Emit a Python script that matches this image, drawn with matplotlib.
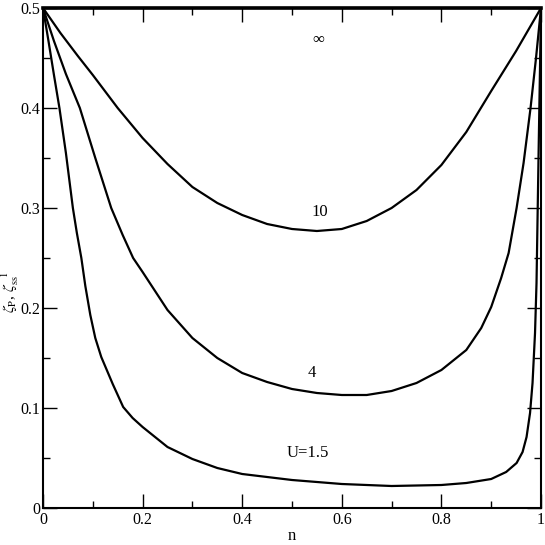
import matplotlib
matplotlib.use("Agg")
import matplotlib.pyplot as plt
from matplotlib.ticker import MultipleLocator

plt.rcParams['font.family'] = ['Liberation Serif', 'DejaVu Serif']
plt.rcParams['mathtext.fontset'] = 'stix'

# U = infinity
n_inf = [0.0, 1.0]
z_inf = [0.5, 0.5]

# U = 10
n_10 = [0.0, 0.035, 0.07, 0.1, 0.15, 0.2, 0.25, 0.3, 0.35, 0.4, 0.45, 0.5, 0.55, 0.6, 0.65, 0.7, 0.75, 0.8, 0.85, 0.9, 0.95, 1.0]
z_10 = [0.5, 0.475, 0.452, 0.433, 0.400, 0.370, 0.344, 0.321, 0.305, 0.293, 0.284, 0.279, 0.277, 0.279, 0.287, 0.300, 0.318, 0.343, 0.376, 0.417, 0.457, 0.5]

# U = 4
n_4 = [0.0, 0.022, 0.046, 0.074, 0.105, 0.137, 0.16, 0.181, 0.2, 0.25, 0.3, 0.35, 0.4, 0.45, 0.5, 0.55, 0.6, 0.65, 0.7, 0.75, 0.8, 0.85, 0.88, 0.9, 0.92, 0.935, 0.951, 0.965, 0.979, 0.99, 1.0]
z_4 = [0.5, 0.467, 0.434, 0.40, 0.35, 0.30, 0.273, 0.25, 0.236, 0.198, 0.170, 0.150, 0.135, 0.126, 0.119, 0.115, 0.113, 0.113, 0.117, 0.125, 0.138, 0.158, 0.180, 0.201, 0.230, 0.255, 0.300, 0.345, 0.400, 0.450, 0.5]

# U = 1.5
n_15 = [0.0, 0.011, 0.022, 0.033, 0.046, 0.06, 0.068, 0.077, 0.085, 0.095, 0.105, 0.117, 0.14, 0.161, 0.18, 0.2, 0.25, 0.3, 0.35, 0.4, 0.5, 0.6, 0.7, 0.8, 0.85, 0.9, 0.93, 0.951, 0.963, 0.971, 0.978, 0.983, 0.988, 0.991, 0.995, 1.0]
z_15 = [0.5, 0.467, 0.433, 0.40, 0.355, 0.30, 0.275, 0.25, 0.222, 0.193, 0.170, 0.151, 0.124, 0.101, 0.09, 0.081, 0.061, 0.049, 0.040, 0.034, 0.028, 0.024, 0.022, 0.023, 0.025, 0.029, 0.036, 0.045, 0.056, 0.071, 0.095, 0.125, 0.175, 0.225, 0.35, 0.5]

labels = ["\u221e", "10", "4", "U=1.5"]
label_pos = [(0.552, 0.468), (0.556, 0.296), (0.54, 0.135), (0.532, 0.055)]

fig = plt.figure(figsize=(5.45, 5.45), dpi=100)
ax = fig.add_axes([43/545, 1-508/545, 498/545, 500/545])

ax.plot(n_inf, z_inf, color='black', lw=2.6, clip_on=False)
ax.plot(n_10, z_10, color='black', lw=1.6)
ax.plot(n_4, z_4, color='black', lw=1.6)
ax.plot(n_15, z_15, color='black', lw=1.6)

for t, (x, y) in zip(labels, label_pos):
    ax.text(x, y, t, ha='center', va='center', fontsize=12)

ax.set_xlim(0, 1)
ax.set_ylim(0, 0.5)
ax.xaxis.set_minor_locator(MultipleLocator(0.1))
ax.yaxis.set_minor_locator(MultipleLocator(0.05))
ax.set_xticks([0, 0.2, 0.4, 0.6, 0.8, 1.0])
ax.set_xticklabels(["0", "0.2", "0.4", "0.6", "0.8", "1"])
ax.set_yticks([0, 0.1, 0.2, 0.3, 0.4, 0.5])
ax.set_yticklabels(["0", "0.1", "0.2", "0.3", "0.4", "0.5"])
ax.tick_params(which='both', direction='in', top=True, right=True, labelsize=11.5, width=1.0)
ax.tick_params(which='major', length=10)
ax.tick_params(which='minor', length=5)
ax.tick_params(axis='y', which='major', pad=2)
ax.tick_params(axis='x', which='major', pad=3)
for s in ax.spines.values():
    s.set_linewidth(1.5)

ax.set_xlabel("n", fontsize=12, labelpad=0)
fig.text(10/545, 1-292/545, r"$\zeta_{\rm P}$, $\zeta_{\rm ss}^{\ \ 1}$", rotation=90,
         ha='center', va='center', fontsize=11)

fig.savefig("out.png", dpi=100)
